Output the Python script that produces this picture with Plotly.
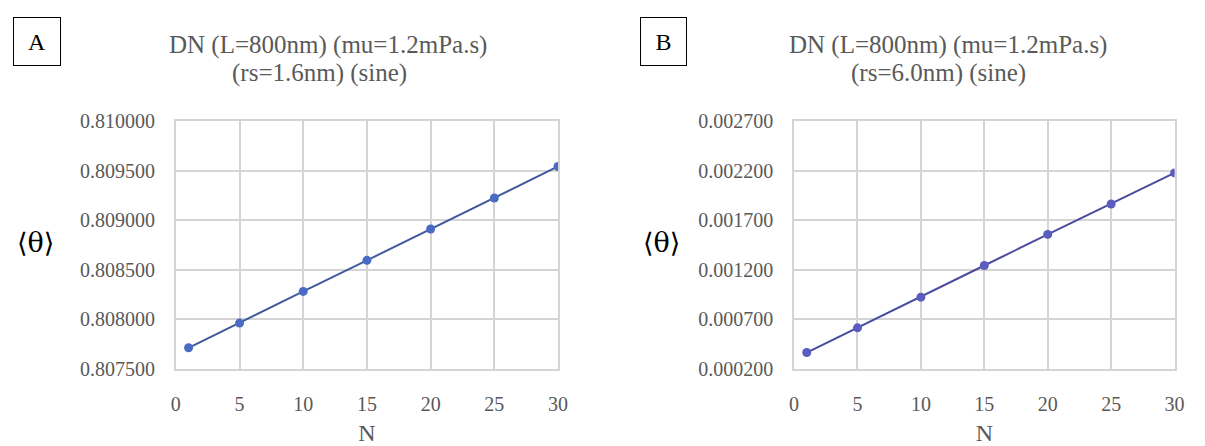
import plotly.graph_objects as go

N = [1, 5, 10, 15, 20, 25, 30]
theta_A = [0.807715, 0.807964, 0.808283, 0.808596, 0.808912, 0.809224, 0.809542]
theta_B = [0.000367, 0.000616, 0.000925, 0.001244, 0.001557, 0.001864, 0.002177]

title_A = ["DN (L=800nm) (mu=1.2mPa.s)", "(rs=1.6nm) (sine)"]
title_B = ["DN (L=800nm) (mu=1.2mPa.s)", "(rs=6.0nm) (sine)"]
x_title = "N"
y_title = "⟨θ⟩"

FONT = "Liberation Serif, Times New Roman, serif"
TXT = "#595959"
GRID = "#D4D4D4"
W, H = 1205, 446

fig = go.Figure()
fig.add_trace(go.Scatter(x=N, y=theta_A, mode="lines+markers", xaxis="x", yaxis="y",
                         line=dict(color="#3F5B9E", width=2),
                         marker=dict(color="#4A6BC4", size=9), showlegend=False))
fig.add_trace(go.Scatter(x=N, y=theta_B, mode="lines+markers", xaxis="x2", yaxis="y2",
                         line=dict(color="#4A4D9E", width=2),
                         marker=dict(color="#5B5CC0", size=9), showlegend=False))

ydom = [1 - 376.7 / H, 1 - 115.7 / H]
axis_common = dict(showgrid=True, gridcolor=GRID, gridwidth=1.5, showline=True, linecolor=GRID,
                   linewidth=1.5, mirror=True, zeroline=False, ticks="",
                   tickfont=dict(family=FONT, size=20, color=TXT))
xt = dict(text=x_title, font=dict(family=FONT, size=24, color=TXT), standoff=12)

fig.update_layout(
    width=W, height=H, margin=dict(l=0, r=0, t=0, b=0),
    paper_bgcolor="white", plot_bgcolor="white",
    font=dict(family=FONT, color=TXT),
    xaxis=dict(domain=[173 / W, 560 / W], range=[0, 30], dtick=5, anchor="y",
               title=xt, ticklabelstandoff=16, **axis_common),
    yaxis=dict(domain=ydom, range=[0.8075, 0.81], tick0=0.8075, dtick=0.0005, tickformat=".6f",
               anchor="x", ticklabelstandoff=15, **axis_common),
    xaxis2=dict(domain=[799 / W, 1184.3 / W], range=[0, 30], dtick=5, anchor="y2",
                title=xt, ticklabelstandoff=16, **axis_common),
    yaxis2=dict(domain=ydom, range=[0.0002, 0.0027], tick0=0.0002, dtick=0.0005, tickformat=".6f",
                anchor="x2", ticklabelstandoff=15, **axis_common),
)

ann = []
for (c1, c2), ttl in [((327, 318), title_A), ((955, 945), title_B)]:
    for cx, cy, line in [(c1, 36, ttl[0]), (c2, 65, ttl[1])]:
        ann.append(dict(text=line, x=cx / W, y=1 - cy / H, xref="paper", yref="paper",
                        showarrow=False, font=dict(family=FONT, size=25, color=TXT),
                        xanchor="center", yanchor="middle"))
for cx, bw, lab in [(32, 48, "A"), (666.5, 47, "B")]:
    ann.append(dict(text=lab, x=cx / W, y=1 - 32.5 / H, xref="paper", yref="paper",
                    showarrow=False, font=dict(family=FONT, size=24, color="black"),
                    bordercolor="black", borderwidth=1, borderpad=0, width=bw - 2, height=47,
                    bgcolor="white", xanchor="center", yanchor="middle"))
for cx in [31, 665]:
    ann.append(dict(text=y_title, x=cx / W, y=1 - 243 / H, xref="paper", yref="paper",
                    showarrow=False, font=dict(family="DejaVu Serif, serif", size=27, color="black"),
                    xanchor="center", yanchor="middle"))
fig.update_layout(annotations=ann)

fig.write_html("out.html")
